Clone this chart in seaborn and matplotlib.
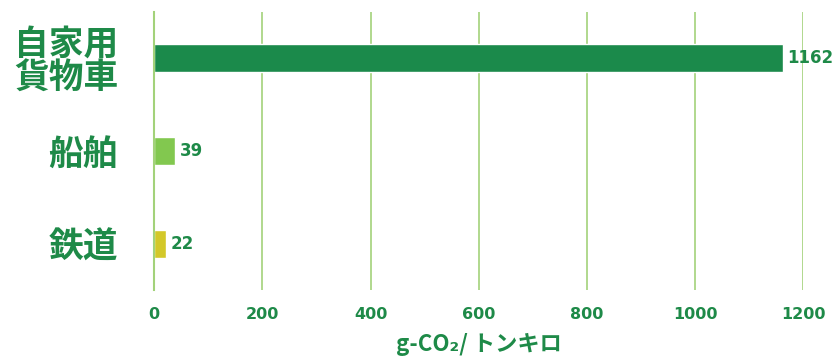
import matplotlib
matplotlib.use('Agg')
import matplotlib.pyplot as plt
import seaborn as sns
import pandas as pd

# Data
categories = ['自家用\n貨物車', '船舶', '鉄道']
values = [1162, 39, 22]
bar_colors = ['#1b8a4b', '#82c84f', '#d3c829']
xticks = [0, 200, 400, 600, 800, 1000, 1200]

text_green = '#1e8a48'
grid_green = '#a3d27a'

sns.set_style('white')
plt.rcParams['font.family'] = ['Noto Sans CJK JP', 'DejaVu Sans']

df = pd.DataFrame({'mode': categories, 'value': values})

fig = plt.figure(figsize=(8.34, 3.62), dpi=100)
ax = fig.add_axes([0.185, 0.199, 0.778, 0.768])

sns.barplot(data=df, x='value', y='mode', hue='mode', palette=bar_colors,
            orient='h', width=0.3, saturation=1, legend=False, ax=ax)

ax.set_xlim(0, 1200)
ax.set_ylim(2.5, -0.5)
ax.set_xticks(xticks)
ax.set_xticklabels([str(t) for t in xticks])
for lbl in ax.get_xticklabels():
    lbl.set_fontfamily('DejaVu Sans')
    lbl.set_fontsize(11.5)
    lbl.set_fontweight('bold')
    lbl.set_color(text_green)
ax.tick_params(axis='x', length=0, pad=12)
ax.tick_params(axis='y', length=0, pad=26)
for lbl in ax.get_yticklabels():
    lbl.set_fontsize(25)
    lbl.set_fontweight('bold')
    lbl.set_color(text_green)
    lbl.set_linespacing(0.95)

ax.grid(axis='x', color=grid_green, linewidth=1.2)
ax.set_axisbelow(True)
for s in ['top', 'right', 'bottom']:
    ax.spines[s].set_visible(False)
ax.spines['left'].set_color(grid_green)
ax.spines['left'].set_linewidth(1.5)

# value labels
for i, v in enumerate(values):
    ax.text(v + 8, i, str(v), va='center', ha='left', fontsize=12,
            fontweight='bold', color=text_green, family='DejaVu Sans')

ax.set_ylabel('')
ax.set_xlabel('g-CO₂/ トンキロ', fontsize=16, fontweight='bold', color=text_green, labelpad=8)

fig.savefig('out.png', dpi=100)
